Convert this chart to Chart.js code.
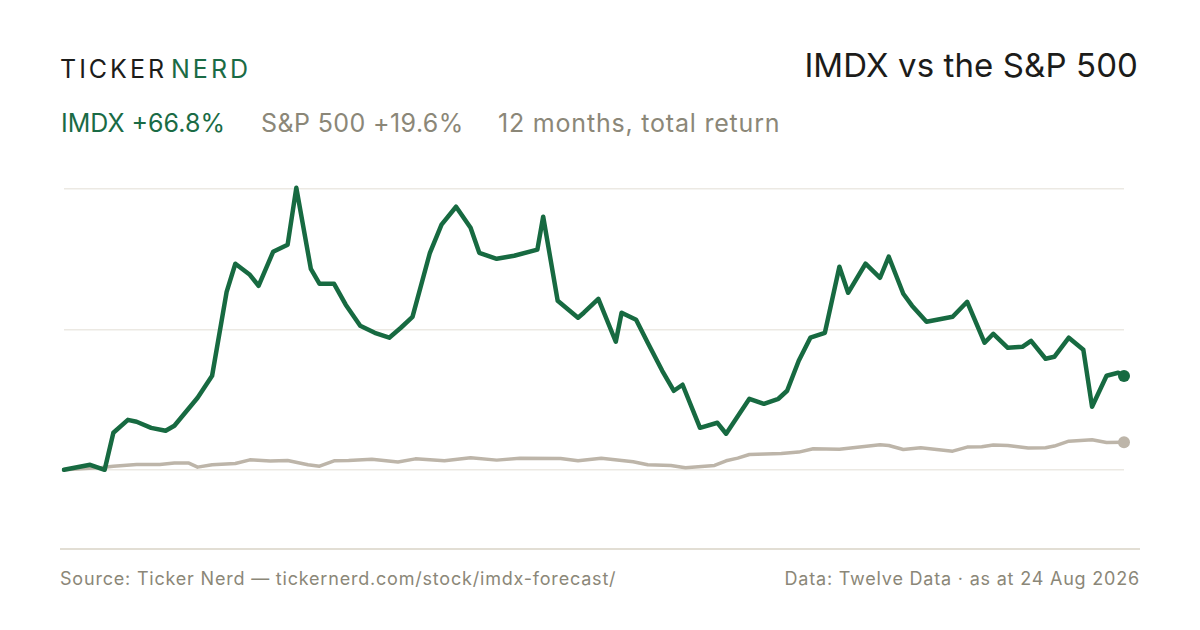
<!DOCTYPE html>
<html lang="en">
<head>
    <meta charset="UTF-8">
    <title>IMDX vs the S&amp;P 500</title>
    <script src="https://cdn.jsdelivr.net/npm/chart.js"></script>
    <style>
        body {
            margin: 0;
            width: 1200px;
            height: 630px;
            background: #ffffff;
            font-family: 'Inter', 'Liberation Sans', sans-serif;
            position: relative;
            overflow: hidden;
        }

        .logo {
            position: absolute;
            left: 60px;
            top: 57px;
            font-size: 25px;
            line-height: 25px;
            letter-spacing: 3px;
            color: #1c1c1a;
        }

        .logo span {
            color: #1a6b45;
            margin-left: 4px;
        }

        .title {
            position: absolute;
            right: 62px;
            top: 49px;
            font-size: 33px;
            line-height: 33px;
            letter-spacing: 0.1px;
            color: #1c1c1a;
        }

        .sub {
            position: absolute;
            top: 111px;
            font-size: 25px;
            line-height: 25px;
            letter-spacing: 0.4px;
            color: #8b8778;
            white-space: nowrap;
        }

        .sub.green {
            color: #1a6b45;
            letter-spacing: 0;
        }

        .sub.wide {
            letter-spacing: 0.8px;
        }

        #chart-wrap {
            position: absolute;
            left: 54px;
            top: 175px;
            width: 1080px;
            height: 365px;
        }

        .rule {
            position: absolute;
            left: 60px;
            top: 548px;
            width: 1080px;
            height: 2px;
            background: #e2ded4;
        }

        .footer {
            position: absolute;
            top: 570px;
            font-size: 18px;
            line-height: 18px;
            letter-spacing: 0.8px;
            color: #8b8778;
            white-space: nowrap;
        }

        .footer.left {
            left: 60px;
        }

        .footer.right {
            right: 60px;
        }
    </style>
</head>
<body>
    <div class="logo">TICKER<span>NERD</span></div>
    <div class="title">IMDX vs the S&amp;P 500</div>
    <div class="sub green" style="left: 61px;">IMDX +66.8%</div>
    <div class="sub" style="left: 261px;">S&amp;P 500 +19.6%</div>
    <div class="sub wide" style="left: 498px;">12 months, total return</div>

    <div id="chart-wrap">
        <canvas id="myChart"></canvas>
    </div>

    <div class="rule"></div>
    <div class="footer left">Source: Ticker Nerd — tickernerd.com/stock/imdx-forecast/</div>
    <div class="footer right">Data: Twelve Data · as at 24 Aug 2026</div>

    <script>
        // days since 24 Aug 2025, total return in %
        const imdxDays = [0, 9, 14, 17, 22, 25, 30, 35, 38, 46, 51, 56, 59, 64, 67, 72, 77, 80, 85, 88,
            93, 97, 102, 107, 112, 116, 120, 126, 130, 135, 140, 143, 149, 155, 163, 165, 170, 177, 179, 184,
            190, 192, 197, 201, 206, 210, 213, 219, 225, 228, 236, 241, 246, 249, 253, 257, 262, 267, 270, 276,
            281, 284, 289, 292, 297, 306, 311, 317, 320, 325, 330, 333, 338, 341, 346, 351, 354, 359, 363, 365];
        const imdxReturn = [0, 3.6, 0, 26.4, 35.6, 34.2, 29.9, 27.8, 31.4, 51.3, 67.0, 126.8, 146.8, 138.9, 131.1, 155.3, 160.3, 200.9, 143.2, 132.5,
            132.5, 117.6, 102.6, 97.6, 94.1, 101.2, 109.0, 154.6, 174.6, 187.4, 172.4, 154.6, 150.3, 152.5, 156.8, 180.3, 120.4, 108.3, 111.9, 121.8,
            91.2, 111.9, 106.9, 90.5, 70.5, 56.3, 60.6, 29.9, 33.5, 25.7, 50.6, 47.0, 50.6, 56.3, 77.7, 94.1, 97.6, 144.6, 126.1, 146.8,
            136.8, 151.8, 125.4, 116.9, 105.5, 109.0, 119.7, 90.5, 96.9, 86.9, 87.6, 91.9, 79.1, 80.5, 94.1, 85.5, 44.9, 67.0, 69.1, 66.8];

        const spxDays = [0, 13, 17, 25, 33, 38, 43, 46, 51, 59, 64, 71, 77, 84, 88, 93, 98, 106, 115, 121,
            131, 140, 149, 157, 171, 177, 185, 196, 201, 209, 214, 224, 228, 232, 236, 247, 253, 258, 267, 281,
            284, 289, 295, 306, 311, 316, 320, 325, 332, 338, 341, 346, 354, 359, 365];
        const spxReturn = [0, 1.6, 2.6, 3.8, 3.8, 4.8, 4.8, 1.9, 3.6, 4.5, 7.1, 6.2, 6.6, 3.6, 2.6, 6.4, 6.6, 7.6, 5.5, 7.8,
            6.4, 8.6, 6.9, 8.3, 8.1, 6.4, 8.3, 5.7, 3.6, 3.1, 1.4, 3.1, 6.4, 8.3, 10.9, 11.6, 12.6, 15.0, 14.7, 17.8,
            17.3, 14.5, 15.7, 13.3, 16.2, 16.4, 17.6, 17.3, 15.5, 15.7, 16.9, 20.4, 21.4, 19.5, 19.6];

        const gridTicks = [0, 100, 200];

        const green = '#176a41';
        const grey = '#bdb5a9';

        function toPoints(days, values) {
            return days.map((d, i) => ({ x: d, y: values[i] }));
        }

        function lastDot(ctx) {
            return ctx.dataIndex === ctx.dataset.data.length - 1 ? 6 : 0;
        }

        const ctx = document.getElementById('myChart').getContext('2d');
        new Chart(ctx, {
            type: 'line',
            data: {
                datasets: [{
                    label: 'IMDX',
                    data: toPoints(imdxDays, imdxReturn),
                    borderColor: green,
                    backgroundColor: green,
                    borderWidth: 4.5,
                    borderJoinStyle: 'round',
                    borderCapStyle: 'round',
                    pointRadius: lastDot,
                    pointHoverRadius: 0,
                    pointBorderWidth: 0,
                    tension: 0,
                    clip: false,
                    order: 1
                },
                {
                    label: 'S&P 500',
                    data: toPoints(spxDays, spxReturn),
                    borderColor: grey,
                    backgroundColor: grey,
                    borderWidth: 3.5,
                    borderJoinStyle: 'round',
                    pointRadius: lastDot,
                    pointHoverRadius: 0,
                    pointBorderWidth: 0,
                    tension: 0,
                    clip: false,
                    order: 2
                }]
            },
            options: {
                responsive: true,
                maintainAspectRatio: false,
                animation: false,
                layout: { padding: { left: 10, right: 10, top: 0, bottom: 0 }, autoPadding: false },
                plugins: {
                    legend: { display: false },
                    tooltip: { enabled: false }
                },
                scales: {
                    x: {
                        type: 'linear',
                        min: 0,
                        max: 365,
                        display: false
                    },
                    y: {
                        min: -50,
                        max: 210,
                        ticks: { display: false },
                        border: { display: false },
                        grid: {
                            color: '#ece9e3',
                            lineWidth: 1.5,
                            drawTicks: false
                        },
                        afterBuildTicks: axis => {
                            axis.ticks = gridTicks.map(v => ({ value: v }));
                        }
                    }
                }
            }
        });
    </script>
</body>
</html>
